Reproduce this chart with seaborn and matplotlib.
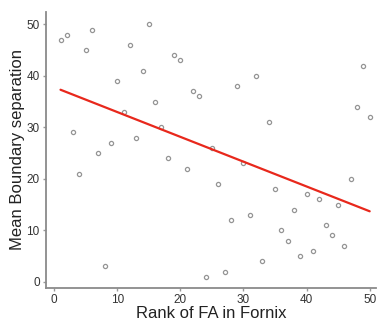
import matplotlib
matplotlib.use("Agg")
import matplotlib.pyplot as plt
import seaborn as sns
import pandas as pd

rank_fa = list(range(1, 51))
boundary_sep = [47, 48, 29, 21, 45, 49, 25, 3, 27, 39,
                33, 46, 28, 41, 50, 35, 30, 24, 44, 43,
                22, 37, 36, 1, 26, 19, 2, 12, 38, 23,
                13, 40, 4, 31, 18, 10, 8, 14, 5, 17,
                6, 16, 11, 9, 15, 7, 20, 34, 42, 32]
x_ticks = [0, 10, 20, 30, 40, 50]
y_ticks = [0, 10, 20, 30, 40, 50]

df = pd.DataFrame({"rank": rank_fa, "sep": boundary_sep})

sns.set_theme(style="white")
plt.rcParams['font.family'] = ['Liberation Sans', 'DejaVu Sans']

fig = plt.figure(figsize=(3.79, 3.21), dpi=100)
ax = fig.add_axes([46/379, 1 - 288/321, (376-46)/379, (288-12)/321])

sns.regplot(data=df, x="rank", y="sep", ax=ax, ci=None,
            scatter_kws=dict(s=9, facecolors="white", edgecolors="#7a7a7a", linewidths=0.9),
            line_kws=dict(color="#e8281c", lw=1.6))

ax.set_xlim(-1.3, 51)
ax.set_ylim(-1.2, 52.4)
ax.set_xticks(x_ticks)
ax.set_yticks(y_ticks)
ax.set_xlabel("Rank of FA in Fornix", fontsize=12, color="#222222", labelpad=0)
ax.set_ylabel("Mean Boundary separation", fontsize=12, color="#222222", labelpad=1)
ax.tick_params(axis="both", labelsize=8.5, colors="#333333", length=2.5, width=1, pad=2,
               direction="out", bottom=True, left=True)
ax.tick_params(axis="both", color="#999999")
for s in ["top", "right"]:
    ax.spines[s].set_visible(False)
for s in ["left", "bottom"]:
    ax.spines[s].set_color("#8a8a8a")
    ax.spines[s].set_linewidth(1.3)

fig.savefig("out.png", dpi=100)
